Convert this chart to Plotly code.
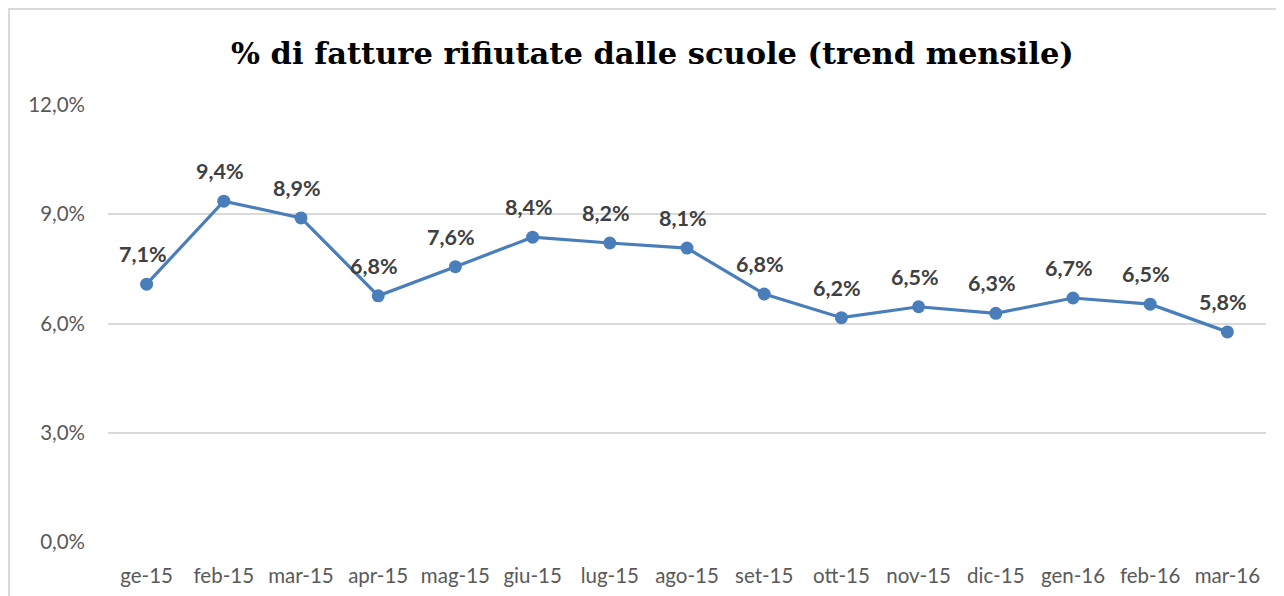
import plotly.graph_objects as go

months = ["ge-15", "feb-15", "mar-15", "apr-15", "mag-15", "giu-15", "lug-15", "ago-15",
          "set-15", "ott-15", "nov-15", "dic-15", "gen-16", "feb-16", "mar-16"]
rejected_pct = [7.08, 9.36, 8.90, 6.76, 7.56, 8.37, 8.21, 8.07, 6.81, 6.16, 6.46, 6.28, 6.70, 6.53, 5.77]
y_ticks = [0, 3, 6, 9, 12]
y_tick_labels = ["0,0%", "3,0%", "6,0%", "9,0%", "12,0%"]
title_text = "% di fatture rifiutate dalle scuole (trend mensile)"

labels = [f"{v:.1f}%".replace(".", ",") for v in rejected_pct]

fig = go.Figure()
fig.add_trace(go.Scatter(
    x=months, y=rejected_pct, mode="lines+markers",
    line=dict(color="#4a7ebb", width=3.2),
    marker=dict(color="#4a7ebb", size=13),
    hoverinfo="skip", showlegend=False,
))

for m, v, t in zip(months, rejected_pct, labels):
    fig.add_annotation(x=m, y=v, text=f"<b>{t}</b>", showarrow=False,
                       yshift=30, xshift=-4,
                       font=dict(family="Lato, Open Sans, sans-serif", size=21.5, color="#404040"))

fig.add_shape(type="rect", xref="paper", yref="paper",
              x0=-0.0855, x1=1.06, y0=-0.3, y1=1.2197,
              line=dict(color="#d9d9d9", width=2), fillcolor="rgba(0,0,0,0)", layer="below")

fig.update_layout(
    width=1276, height=588,
    margin=dict(l=100, r=18, t=97, b=54),
    paper_bgcolor="white", plot_bgcolor="white",
    title=dict(text=f"<b>{title_text}</b>", x=0.505, xanchor="center", y=0.923, yanchor="middle",
               font=dict(family="DejaVu Serif, Liberation Serif, serif", size=30.5, color="#000000")),
    xaxis=dict(type="category", showgrid=False, showline=False, zeroline=False, ticks="",
               automargin=False, ticklabelstandoff=19,
               tickfont=dict(family="Lato, Open Sans, sans-serif", size=20.5, color="#595959"),
               range=[-0.5, 14.5]),
    yaxis=dict(range=[0, 12], tickvals=y_ticks, ticktext=y_tick_labels, automargin=False,
               showgrid=True, gridcolor="#d9d9d9", gridwidth=1.5, zeroline=False, showline=False,
               ticks="", ticklabelstandoff=22,
               tickfont=dict(family="Lato, Open Sans, sans-serif", size=20.5, color="#595959")),
)

fig.write_html("out.html")
